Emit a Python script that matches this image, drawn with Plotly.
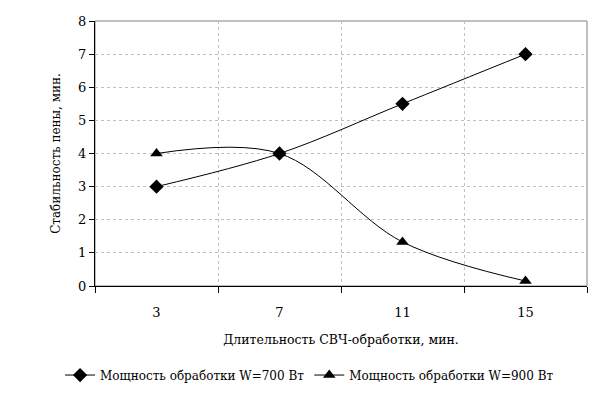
import plotly.graph_objects as go

# duration of microwave treatment, min
durations = ["3", "7", "11", "15"]
# foam stability, min
w700 = [3.0, 4.0, 5.5, 7.0]
w900 = [4.0, 4.0, 1.33, 0.15]

names = ["Мощность обработки W=700 Вт", "Мощность обработки W=900 Вт"]

SERIF = "DejaVu Serif"

fig = go.Figure()

fig.add_trace(go.Scatter(
    x=durations, y=w700, name=names[0], mode="lines+markers",
    line=dict(color="black", width=1, shape="spline", smoothing=1),
    marker=dict(symbol="diamond", size=11, color="black"),
))
fig.add_trace(go.Scatter(
    x=durations, y=w900, name=names[1], mode="lines+markers",
    line=dict(color="black", width=1, shape="spline", smoothing=1),
    marker=dict(symbol="triangle-up", size=11, color="black"),
))

# grey frame on top/right like the excel plot area
fig.add_shape(type="rect", xref="paper", yref="paper", x0=0, y0=0, x1=1, y1=1,
              line=dict(color="#808080", width=1), layer="below")

# page body has an 8px margin, so the figure is 16px smaller than the window
fig.update_layout(
    width=590, height=390,
    margin=dict(l=87, r=11, t=13, b=112, autoexpand=False),
    paper_bgcolor="white", plot_bgcolor="white",
    font=dict(family=SERIF, size=13, color="black"),
    showlegend=True,
    # x < 0 with left anchor lets the legend use the left margin too (one row)
    legend=dict(orientation="h", x=-0.071, xanchor="left",
                y=-0.336, yanchor="middle",
                font=dict(family=SERIF, size=12), itemwidth=30, tracegroupgap=0),
)

fig.update_xaxes(
    type="category", range=[-0.5, 3.5], tickson="boundaries",
    ticks="outside", ticklen=6, tickcolor="black",
    showline=True, linecolor="black", linewidth=1,
    showgrid=True, gridcolor="#c0c0c0", griddash="3px,3px", gridwidth=1,
    ticklabelstandoff=14, automargin=False,
    title=dict(text="Длительность СВЧ-обработки, мин.", font=dict(family=SERIF, size=12.5), standoff=16),
)
fig.update_yaxes(
    range=[0, 8], dtick=1, ticks="outside", ticklen=5, tickcolor="black",
    showline=True, linecolor="black", linewidth=1,
    showgrid=True, gridcolor="#c0c0c0", griddash="3px,3px", gridwidth=1,
    zeroline=False, automargin=False,
    title=dict(text="Стабильность пены, мин.", font=dict(family=SERIF, size=12), standoff=14),
)

fig.write_html("out.html")
